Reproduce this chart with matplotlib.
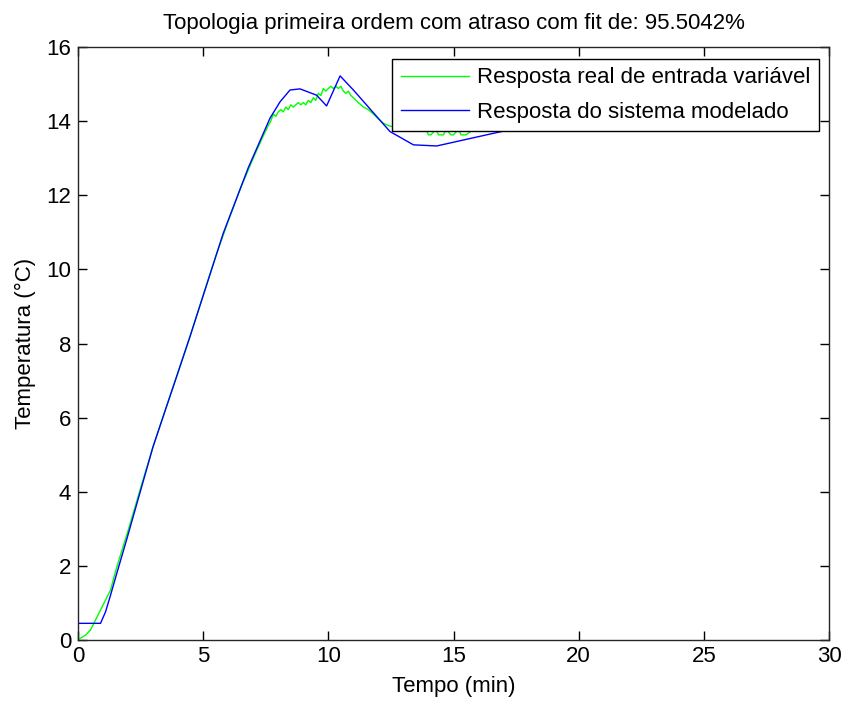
import numpy as np
import matplotlib
matplotlib.use("Agg")
import matplotlib.pyplot as plt

plt.rcParams['font.family'] = ['Liberation Sans', 'DejaVu Sans']

# Resposta medida (sensor quantizado, passos de 1/16 °C no patamar)
t_real = [0, 0.1, 0.3, 0.5, 0.7, 0.9, 1.1, 1.3, 1.5, 1.7, 2.0, 2.5, 3.0, 3.5, 4.0,
          4.5, 5.0, 5.5, 6.0, 6.5, 7.0, 7.4, 7.6, 7.7, 7.8, 7.9, 8.0, 8.1, 8.2,
          8.3, 8.4, 8.5, 8.6, 8.7, 8.8, 8.9, 9.0, 9.1, 9.2, 9.3, 9.4, 9.5, 9.6,
          9.7, 9.8, 9.9, 10.0, 10.1, 10.2, 10.3, 10.4, 10.5, 10.6, 10.7, 10.8,
          10.9, 11.0, 11.2, 11.4, 11.6, 11.8, 12.0, 12.2, 12.4, 12.8, 13.2, 13.6,
          13.9, 14.0, 14.1, 14.3, 14.4, 14.6, 14.7, 14.9, 15.0, 15.2, 15.3, 15.5,
          15.8, 16.2, 16.6, 17.0]
T_real = [0.0, 0.05, 0.13, 0.27, 0.54, 0.81, 1.08, 1.35, 1.85, 2.3, 2.95, 4.1,
          5.22, 6.23, 7.22, 8.24, 9.3, 10.35, 11.3, 12.2, 13.0, 13.6, 13.88,
          14.0, 14.19, 14.13, 14.25, 14.31, 14.25, 14.38, 14.31, 14.44, 14.38,
          14.44, 14.5, 14.44, 14.5, 14.44, 14.56, 14.5, 14.63, 14.56, 14.75,
          14.69, 14.88, 14.81, 14.88, 14.94, 14.88, 14.94, 14.88, 14.94, 14.81,
          14.75, 14.81, 14.69, 14.63, 14.5, 14.38, 14.31, 14.19, 14.06, 13.94,
          13.88, 13.81, 13.78, 13.75, 13.78, 13.63, 13.63, 13.78, 13.63, 13.63,
          13.78, 13.63, 13.63, 13.78, 13.63, 13.63, 13.78, 13.78, 13.8, 13.82]

# Resposta do modelo de primeira ordem com atraso
t_mod = [0, 0.9, 1.1, 1.3, 1.55, 1.94, 3.0, 4.47, 5.8, 6.8, 7.67, 8.07, 8.47,
         8.87, 9.53, 9.93, 10.47, 11.0, 12.46, 13.4, 14.33, 16.72, 17.5]
T_mod = [0.45, 0.45, 0.76, 1.21, 1.8, 2.7, 5.22, 8.18, 10.97, 12.74, 14.08,
         14.52, 14.84, 14.87, 14.7, 14.41, 15.22, 14.84, 13.72, 13.36, 13.33,
         13.69, 13.8]

fig = plt.figure(figsize=(8.42, 7.02), dpi=100)
ax = fig.add_axes([78/842, 62/702, 751/842, 593/702])

ax.plot(t_real, T_real, color=(0, 1, 0), lw=1.0, label='Resposta real de entrada variável')
ax.plot(t_mod, T_mod, color=(0, 0, 1), lw=1.0, label='Resposta do sistema modelado')

ax.set_xlim(0, 30)
ax.set_ylim(0, 16)
ax.set_xticks(np.arange(0, 31, 5))
ax.set_yticks(np.arange(0, 17, 2))
ax.tick_params(direction='in', length=6.5, width=1, top=True, right=True, labelsize=16)
ax.tick_params(axis='x', pad=4)
ax.tick_params(axis='y', pad=5)
for s in ax.spines.values():
    s.set_linewidth(1.0)
    s.set_color('#262626')

ax.set_title('Topologia primeira ordem com atraso com fit de: 95.5042%', fontsize=16, pad=13)
ax.set_xlabel('Tempo (min)', fontsize=16, labelpad=7)
ax.set_ylabel('Temperatura (°C)', fontsize=16, labelpad=7)

leg = ax.legend(loc='upper right', fontsize=16, fancybox=False,
                framealpha=1, edgecolor='black', handlelength=3.1,
                borderaxespad=0, borderpad=0.38, labelspacing=0.6, handletextpad=0.35)
leg.get_frame().set_linewidth(1.0)
leg.set_bbox_to_anchor((741/751, 1 - 12/593), transform=ax.transAxes)

fig.savefig('out.png', dpi=100)
